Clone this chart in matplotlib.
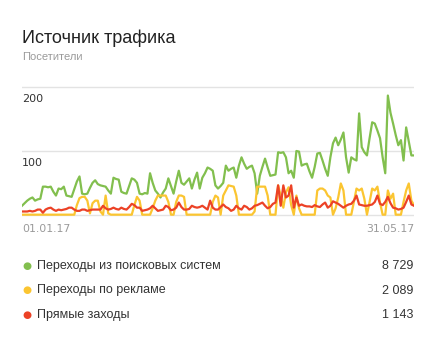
import matplotlib
matplotlib.use("Agg")
import matplotlib.pyplot as plt
import numpy as np

# daily visitors, 01.01.17 - 31.05.17
search = [14, 18, 22, 25, 27, 22, 24, 25, 44, 44, 43, 44, 36, 30, 41, 40, 44, 30, 29, 28,
          40, 52, 60, 33, 32, 33, 42, 50, 54, 48, 46, 45, 44, 38, 33, 58, 56, 55, 36, 34,
          33, 45, 57, 55, 50, 33, 32, 34, 33, 65, 50, 38, 33, 27, 35, 41, 57, 45, 33, 52,
          69, 50, 47, 52, 57, 41, 55, 66, 41, 58, 65, 74, 72, 69, 46, 41, 45, 50, 77, 69,
          72, 74, 58, 77, 90, 80, 72, 75, 77, 65, 33, 61, 75, 88, 74, 61, 62, 63, 98, 97,
          98, 90, 65, 69, 58, 100, 99, 77, 79, 80, 68, 58, 75, 96, 97, 85, 72, 61, 90, 112,
          121, 109, 118, 129, 90, 66, 90, 87, 85, 159, 106, 98, 93, 120, 145, 143, 132, 120, 90, 65,
          187, 160, 143, 125, 109, 117, 85, 137, 115, 93, 93]
ads = [0, 0, 0, 0, 0, 0, 0, 0, 0, 0, 0, 0, 0, 0, 0, 0, 0, 0, 0, 0,
       0, 15, 26, 28, 28, 22, 2, 18, 22, 22, 5, 0, 30, 2, 0, 0, 0, 0, 0, 0,
       0, 0, 0, 15, 28, 22, 0, 0, 0, 0, 10, 22, 30, 30, 30, 30, 20, 0, 0, 20,
       30, 30, 28, 0, 0, 0, 0, 0, 0, 0, 0, 0, 0, 20, 30, 27, 0, 30, 38, 46,
       45, 44, 30, 0, 0, 0, 0, 0, 0, 5, 44, 44, 44, 44, 30, 0, 0, 0, 46, 30,
       11, 35, 43, 15, 0, 30, 10, 0, 0, 0, 0, 0, 0, 38, 41, 41, 38, 30, 27, 0,
       10, 27, 49, 38, 0, 0, 0, 20, 41, 38, 41, 25, 0, 20, 41, 38, 44, 19, 0, 0,
       38, 25, 33, 0, 0, 0, 20, 38, 49, 22, 15]
direct = [5, 5, 5, 6, 5, 6, 8, 8, 3, 8, 10, 11, 8, 6, 8, 7, 8, 9, 11, 11,
          8, 6, 6, 8, 8, 6, 7, 8, 8, 8, 8, 14, 10, 8, 9, 11, 9, 8, 11, 9,
          8, 12, 17, 15, 11, 11, 6, 7, 8, 10, 14, 10, 6, 7, 8, 14, 12, 7, 8, 11,
          19, 12, 8, 8, 9, 14, 12, 11, 12, 14, 11, 8, 22, 11, 8, 8, 12, 16, 12, 10,
          6, 8, 14, 10, 8, 14, 12, 8, 10, 14, 15, 17, 19, 14, 10, 12, 17, 19, 46, 14,
          46, 27, 30, 46, 11, 27, 14, 16, 14, 13, 13, 12, 15, 13, 12, 16, 19, 11, 14, 21,
          19, 17, 14, 11, 14, 16, 17, 22, 30, 16, 15, 14, 14, 15, 16, 20, 30, 17, 15, 20,
          28, 18, 11, 10, 8, 9, 11, 20, 30, 16, 14]

names = ["Переходы из поисковых систем", "Переходы по рекламе", "Прямые заходы"]
totals = ["8 729", "2 089", "1 143"]
colors = ["#82bf4e", "#fbc531", "#ec4226"]
date_labels = ["01.01.17", "31.05.17"]
y_ticks = [100, 200]

W, H = 436, 352
fig = plt.figure(figsize=(W / 100, H / 100), dpi=100)
ax = fig.add_axes([22 / W, 0.3847, 392 / W, 0.3855])

days = np.arange(len(search))
for series, c in zip([search, ads, direct], colors):
    ax.plot(days, series, color=c, lw=1.6, solid_joinstyle="round")

ax.set_xlim(0, len(search) - 1)
ax.set_ylim(-3, 210)
for t in [0] + y_ticks:
    ax.axhline(t, color="#e3e3e3", lw=1, zorder=0)
for t in y_ticks:
    ax.text(0, t - 11, str(t), fontsize=8, color="#333333", va="top", ha="left",
            family="DejaVu Sans")
for s in ax.spines.values():
    s.set_visible(False)
ax.set_xticks([])
ax.set_yticks([])

fig.text(22 / W, 1 - 38 / H, "Источник трафика", fontsize=13, color="#222222",
         va="center", family="Liberation Sans")
fig.text(22 / W, 1 - 57 / H, "Посетители", fontsize=8, color="#9a9a9a",
         va="center", family="Liberation Sans")
fig.text(22 / W, 1 - 229 / H, date_labels[0], fontsize=7.8, color="#9a9a9a",
         va="center", ha="left", family="DejaVu Sans")
fig.text(414 / W, 1 - 229 / H, date_labels[1], fontsize=7.8, color="#9a9a9a",
         va="center", ha="right", family="DejaVu Sans")

for i, (n, tot, c) in enumerate(zip(names, totals, colors)):
    y = 1 - (266 + i * 24.5) / H
    fig.text(27 / W, y, "●", color=c, fontsize=7.5, va="center", ha="center",
             family="DejaVu Sans")
    fig.text(37 / W, y, n, fontsize=9, color="#333333", va="center",
             family="Liberation Sans")
    fig.text(413 / W, y, tot, fontsize=9, color="#333333", va="center", ha="right",
             family="Liberation Sans")

fig.savefig("out.png", dpi=100, facecolor="white")
